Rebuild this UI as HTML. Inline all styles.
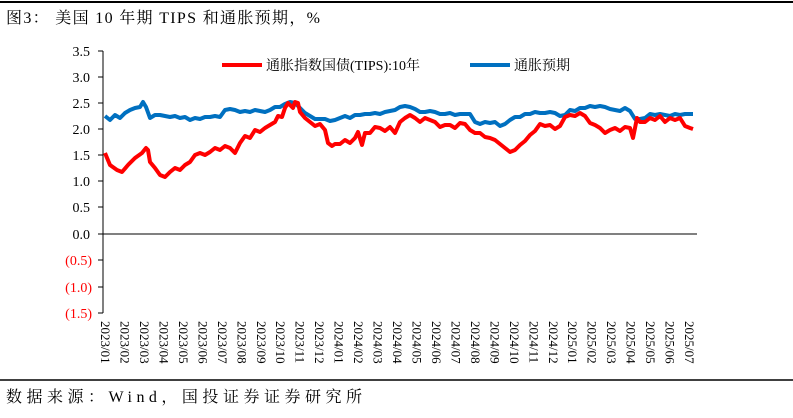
<!DOCTYPE html>
<html><head><meta charset="utf-8"><style>
body{margin:0;background:#fff}
svg text{font-family:"Liberation Serif","Noto Serif CJK SC",serif}
</style></head><body>
<svg width="793" height="413" xmlns="http://www.w3.org/2000/svg">
<line x1="0" y1="2" x2="793" y2="2" stroke="#000" stroke-width="2"/>
<text x="6" y="23" font-size="16" fill="#000" textLength="314" lengthAdjust="spacing">图3：  美国 10 年期 TIPS 和通胀预期，%</text>
<line x1="0" y1="380" x2="793" y2="380" stroke="#000" stroke-width="1.5"/>
<text x="6" y="402" font-size="16" fill="#000" textLength="356" lengthAdjust="spacing">数据来源：Wind，国投证券证券研究所</text>
<g font-size="14" text-anchor="end">
<text x="90" y="56">3.5</text><text x="90" y="82">3.0</text><text x="90" y="108">2.5</text>
<text x="90" y="134">2.0</text><text x="90" y="160">1.5</text><text x="90" y="186">1.0</text>
<text x="90" y="212">0.5</text><text x="90" y="239">0.0</text>
<text x="92" y="265" fill="#f00">(0.5)</text><text x="92" y="292" fill="#f00">(1.0)</text><text x="92" y="318" fill="#f00">(1.5)</text>
</g>
<g stroke="#000" stroke-width="1">
<line x1="103" y1="51" x2="103" y2="313"/>
<line x1="98" y1="51" x2="103" y2="51"/><line x1="98" y1="77" x2="103" y2="77"/><line x1="98" y1="103" x2="103" y2="103"/>
<line x1="98" y1="129" x2="103" y2="129"/><line x1="98" y1="155" x2="103" y2="155"/><line x1="98" y1="181" x2="103" y2="181"/>
<line x1="98" y1="207" x2="103" y2="207"/><line x1="98" y1="234" x2="103" y2="234"/><line x1="98" y1="260" x2="103" y2="260"/>
<line x1="98" y1="287" x2="103" y2="287"/><line x1="98" y1="313" x2="103" y2="313"/>
<line x1="103" y1="234" x2="697" y2="234"/>
</g>
<polyline fill="none" stroke="#0070c0" stroke-width="4" stroke-linejoin="round" points="105,116 110,120 115,115 120,118 125,113 130,110 135,108 140,107 143,102 146,107 150,118 155,115 160,115 165,116 170,117 175,116 180,118 185,117 190,120 195,118 200,119 205,117 210,117 215,116 220,117 225,110 230,109 235,110 240,112 245,111 250,112 255,110 260,111 265,112 270,110 275,107 280,107 285,104 290,102 295,103 300,108 305,113 310,116 315,119 320,119 325,119 330,121 335,120 340,118 345,116 350,118 355,115 360,115 365,114 370,114 375,113 380,114 385,112 390,111 395,110 400,107 405,106 410,107 415,109 420,112 425,112 430,111 435,112 440,114 445,114 450,113 455,115 460,114 465,114 470,114 475,122 480,124 485,122 490,123 495,122 500,126 505,124 510,120 515,117 520,117 525,114 530,114 535,112 540,113 545,113 550,112 555,113 560,116 565,115 570,110 575,111 580,108 585,108 590,106 595,107 600,106 605,107 610,109 615,110 620,111 625,108 630,111 635,119 640,119 645,118 650,114 655,115 660,114 665,115 670,116 675,114 680,115 685,114 690,114 693,114"/>
<polyline fill="none" stroke="#ff0000" stroke-width="4" stroke-linejoin="round" points="105,153 110,165 117,170 122,172 128,165 135,158 142,153 146,148 148,150 150,162 155,168 160,175 165,177 170,172 175,168 180,170 185,165 190,162 195,155 200,153 205,155 210,152 215,148 220,150 225,146 230,148 235,153 240,143 245,136 250,138 255,130 260,132 265,128 270,125 275,122 278,116 282,117 285,108 288,103 293,108 295,102 298,103 300,112 305,118 310,122 315,126 320,124 325,130 328,143 332,146 335,144 340,144 345,140 350,143 355,138 358,132 362,145 365,133 370,133 375,127 380,128 385,131 390,127 395,133 400,122 405,118 410,115 415,118 420,122 425,118 430,120 435,122 440,127 445,125 450,125 455,128 460,123 465,124 470,130 475,133 480,133 485,137 490,138 495,140 500,144 505,148 510,152 515,150 520,145 525,141 530,135 535,131 540,124 545,126 550,125 555,129 560,126 565,117 570,115 575,116 580,113 585,116 590,123 595,125 600,128 605,133 610,130 615,128 620,131 625,127 630,128 633,138 637,118 640,122 645,122 650,118 655,120 660,116 665,122 670,118 675,120 680,118 685,126 690,128 693,129"/>
<line x1="222" y1="65" x2="262" y2="65" stroke="#f00" stroke-width="4"/>
<text x="266" y="70" font-size="14">通胀指数国债(TIPS):10年</text>
<line x1="470" y1="65" x2="510" y2="65" stroke="#0070c0" stroke-width="4"/>
<text x="514" y="70" font-size="14">通胀预期</text>
<g font-size="13">
<text transform="translate(101,321) rotate(90)">2023/01</text>
<text transform="translate(120.5,321) rotate(90)">2023/02</text>
<text transform="translate(140,321) rotate(90)">2023/03</text>
<text transform="translate(159.4,321) rotate(90)">2023/04</text>
<text transform="translate(178.9,321) rotate(90)">2023/05</text>
<text transform="translate(198.4,321) rotate(90)">2023/06</text>
<text transform="translate(217.8,321) rotate(90)">2023/07</text>
<text transform="translate(237.3,321) rotate(90)">2023/08</text>
<text transform="translate(256.8,321) rotate(90)">2023/09</text>
<text transform="translate(276.2,321) rotate(90)">2023/10</text>
<text transform="translate(295.7,321) rotate(90)">2023/11</text>
<text transform="translate(315.2,321) rotate(90)">2023/12</text>
<text transform="translate(334.6,321) rotate(90)">2024/01</text>
<text transform="translate(354.1,321) rotate(90)">2024/02</text>
<text transform="translate(373.6,321) rotate(90)">2024/03</text>
<text transform="translate(393,321) rotate(90)">2024/04</text>
<text transform="translate(412.5,321) rotate(90)">2024/05</text>
<text transform="translate(432,321) rotate(90)">2024/06</text>
<text transform="translate(451.4,321) rotate(90)">2024/07</text>
<text transform="translate(470.9,321) rotate(90)">2024/08</text>
<text transform="translate(490.4,321) rotate(90)">2024/09</text>
<text transform="translate(509.8,321) rotate(90)">2024/10</text>
<text transform="translate(529.3,321) rotate(90)">2024/11</text>
<text transform="translate(548.8,321) rotate(90)">2024/12</text>
<text transform="translate(568.2,321) rotate(90)">2025/01</text>
<text transform="translate(587.7,321) rotate(90)">2025/02</text>
<text transform="translate(607.2,321) rotate(90)">2025/03</text>
<text transform="translate(626.6,321) rotate(90)">2025/04</text>
<text transform="translate(646.1,321) rotate(90)">2025/05</text>
<text transform="translate(665.6,321) rotate(90)">2025/06</text>
<text transform="translate(685,321) rotate(90)">2025/07</text>
</g>
</svg>
</body></html>
